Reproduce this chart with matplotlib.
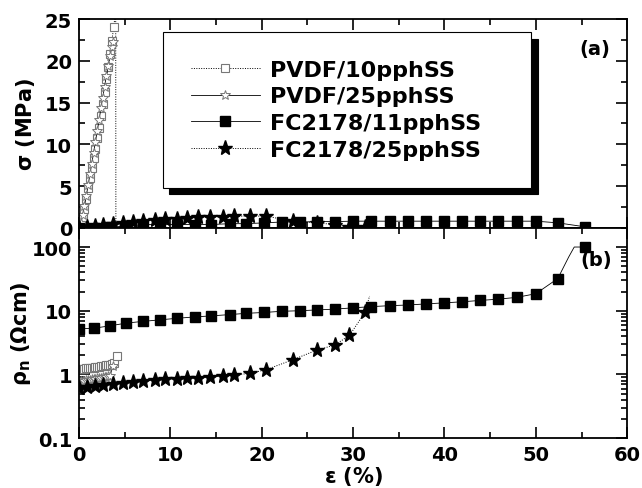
import numpy as np
import matplotlib
matplotlib.use("Agg")
import matplotlib.pyplot as plt
from matplotlib.ticker import MultipleLocator, FixedLocator, FixedFormatter, LogLocator, NullFormatter

plt.rcParams['font.family'] = ['DejaVu Sans']
plt.rcParams['font.weight'] = 'bold'

# PVDF/10pphSS
eps_p10 = [0.0, 0.2, 0.4, 0.6, 0.8, 1.0, 1.2, 1.4, 1.6, 1.8, 2.0, 2.2, 2.4, 2.6, 2.8, 3.0, 3.2, 3.4, 3.6, 3.8, 4.02, 4.04]
sig_p10 = [0.0, 0.5, 1.3, 2.3, 3.5, 4.8, 6.0, 7.2, 8.4, 9.5, 10.7, 12.0, 13.4, 14.8, 16.3, 17.8, 19.3, 20.8, 22.4, 24.0, 26.0, 0.0]
eps_p10_r = [0.0, 0.2, 0.4, 0.6, 0.8, 1.0, 1.2, 1.4, 1.6, 1.8, 2.0, 2.2, 2.4, 2.6, 2.8, 3.0, 3.2, 3.4, 3.6, 3.8, 4.2]
rho_p10 = [1.20, 1.21, 1.22, 1.23, 1.24, 1.25, 1.26, 1.27, 1.28, 1.30, 1.31, 1.32, 1.34, 1.35, 1.37, 1.39, 1.41, 1.43, 1.46, 1.50, 1.95]

# PVDF/25pphSS
eps_p25 = [0.0, 0.2, 0.4, 0.6, 0.8, 1.0, 1.2, 1.4, 1.6, 1.8, 2.0, 2.2, 2.4, 2.6, 2.8, 3.0, 3.2, 3.4, 3.6, 3.7]
sig_p25 = [0.0, 0.6, 1.5, 2.6, 3.8, 5.1, 6.4, 7.7, 9.0, 10.3, 11.6, 12.9, 14.3, 15.6, 16.9, 18.2, 19.4, 20.6, 21.7, 22.2]
eps_p25_r = [0.0, 0.2, 0.4, 0.6, 0.8, 1.0, 1.2, 1.4, 1.6, 1.8, 2.0, 2.2, 2.4, 2.6, 2.8, 3.0, 3.2, 3.4, 3.7]
rho_p25 = [0.78, 0.79, 0.80, 0.80, 0.81, 0.82, 0.83, 0.84, 0.85, 0.86, 0.87, 0.88, 0.89, 0.90, 0.91, 0.92, 0.93, 0.95, 1.35]

# FC2178/11pphSS
eps_fc11 = [0.0, 1.6, 3.4, 5.2, 7.0, 8.9, 10.7, 12.7, 14.5, 16.5, 18.3, 20.3, 22.2, 24.2, 26.1, 28.0, 30.0,
            32.0, 34.0, 36.0, 38.0, 40.0, 41.9, 43.9, 45.9, 47.9, 50.0, 52.4, 55.4]
sig_fc11 = [0.0, 0.0, 0.1, 0.2, 0.4, 0.4, 0.4, 0.4, 0.4, 0.5, 0.5, 0.6, 0.7, 0.7, 0.75, 0.75, 0.8,
            0.8, 0.8, 0.8, 0.8, 0.8, 0.8, 0.8, 0.8, 0.8, 0.8, 0.6, 0.12]
eps_fc11_r = [0.0, 1.6, 3.4, 5.2, 7.0, 8.9, 10.7, 12.7, 14.5, 16.5, 18.3, 20.3, 22.2, 24.2, 26.1, 28.0, 30.0,
              32.0, 34.0, 36.0, 38.0, 40.0, 41.9, 43.9, 45.9, 47.9, 50.0, 52.4, 53.6, 54.2, 55.4]
rho_fc11 = [5.2, 5.3, 5.8, 6.4, 6.8, 7.2, 7.6, 8.0, 8.3, 8.7, 9.1, 9.4, 9.8, 10.0, 10.3, 10.6, 11.1,
            11.6, 12.0, 12.3, 12.8, 13.3, 13.8, 14.5, 15.2, 16.2, 18.5, 32.0, 70.0, 100.0, 100.0]

# FC2178/25pphSS
eps_fc25 = [0.0, 0.84, 1.75, 2.66, 3.75, 4.85, 5.9, 7.0, 8.3, 9.4, 10.7, 11.8, 13.0, 14.3, 15.8, 17.0,
            18.7, 20.5, 23.4, 26.0, 28.0, 29.6, 31.3]
sig_fc25 = [0.0, 0.1, 0.2, 0.35, 0.5, 0.6, 0.75, 0.85, 0.95, 1.05, 1.1, 1.2, 1.25, 1.3, 1.35, 1.4,
            1.4, 1.4, 0.8, 0.6, 0.4, 0.15, 0.05]
eps_fc25_r = [0.0, 0.84, 1.75, 2.66, 3.75, 4.85, 5.9, 7.0, 8.3, 9.4, 10.7, 11.8, 13.0, 14.3, 15.8, 17.0,
              18.7, 20.5, 23.4, 26.0, 28.0, 29.6, 31.3, 31.8]
rho_fc25 = [0.62, 0.64, 0.66, 0.68, 0.72, 0.745, 0.77, 0.79, 0.82, 0.84, 0.86, 0.88, 0.89, 0.92, 0.94, 0.98,
            1.04, 1.19, 1.7, 2.4, 2.9, 4.1, 9.4, 17.0]

labels = ['PVDF/10pphSS', 'PVDF/25pphSS', 'FC2178/11pphSS', 'FC2178/25pphSS']
x_ticks = [0, 10, 20, 30, 40, 50, 60]
rho_ticks = [0.1, 1, 10, 100]
rho_tick_labels = ['0.1', '1', '10', '100']

fig = plt.figure(figsize=(6.42, 4.89), dpi=100)
ax1 = fig.add_axes([0.123, 0.532, 0.854, 0.427])
ax2 = fig.add_axes([0.123, 0.102, 0.854, 0.430])

gray = '#777777'
s_p10 = dict(ls=(0, (1, 1.5)), lw=0.7, color='k', marker='s', ms=5.5, mfc='white', mec=gray, mew=0.8)
s_p25 = dict(ls='-', lw=0.6, color='k', marker='*', ms=7, mfc='white', mec=gray, mew=0.7)
s_fc11 = dict(ls='-', lw=0.6, color='k', marker='s', ms=7, mfc='k', mec='k')
s_fc25 = dict(ls=(0, (1, 1.5)), lw=0.7, color='k', marker='*', ms=11, mfc='k', mec='k')

# stress panel
ax1.plot(eps_p10, sig_p10, markevery=list(range(len(eps_p10) - 1)), label=labels[0], **s_p10)
ax1.plot(eps_p25, sig_p25, label=labels[1], **s_p25)
ax1.plot(eps_fc11, sig_fc11, label=labels[2], **s_fc11)
ax1.plot(eps_fc25, sig_fc25, label=labels[3], **s_fc25)
ax1.set_xlim(0, 60)
ax1.set_ylim(0, 25)
ax1.yaxis.set_major_locator(MultipleLocator(5))
ax1.yaxis.set_minor_locator(MultipleLocator(2.5))
ax1.xaxis.set_major_locator(FixedLocator(x_ticks))
ax1.xaxis.set_minor_locator(MultipleLocator(5))
ax1.tick_params(axis='x', labelbottom=False)
ax1.set_ylabel(r'$\mathrm{\sigma}$ (MPa)', fontsize=15, fontweight='bold')
ax1.yaxis.set_label_coords(-0.077, 0.5)
ax1.text(0.94, 0.86, '(a)', transform=ax1.transAxes, fontsize=14, fontweight='bold', ha='center', va='center')

# fixed-width legend box with a solid drop shadow
leg = ax1.legend(loc='upper left', bbox_to_anchor=(0.153, 0.2, 0.672, 0.738), mode='expand',
                 fontsize=16, frameon=True, fancybox=False, edgecolor='k',
                 handlelength=3.1, handletextpad=0.45, labelspacing=0.3, borderpad=1.25,
                 borderaxespad=0, shadow={'ox': 4.5, 'oy': -5, 'color': 'k', 'alpha': 1})
leg.get_frame().set_linewidth(0.8)
for t in leg.get_texts():
    t.set_fontweight('bold')

# resistivity panel
ax2.plot(eps_p10_r, rho_p10, label=labels[0], **s_p10)
ax2.plot(eps_p25_r, rho_p25, label=labels[1], **s_p25)
ax2.plot(eps_fc11_r, rho_fc11, markevery=[i for i in range(len(eps_fc11_r)) if i not in (28, 29)],
         label=labels[2], **s_fc11)
ax2.plot(eps_fc25_r, rho_fc25, markevery=list(range(len(eps_fc25_r) - 1)), label=labels[3], **s_fc25)
ax2.set_yscale('log')
ax2.set_xlim(0, 60)
ax2.set_ylim(0.1, 200)
ax2.yaxis.set_major_locator(FixedLocator(rho_ticks))
ax2.yaxis.set_major_formatter(FixedFormatter(rho_tick_labels))
ax2.yaxis.set_minor_locator(LogLocator(base=10, subs=np.arange(2, 10), numticks=20))
ax2.yaxis.set_minor_formatter(NullFormatter())
ax2.xaxis.set_major_locator(FixedLocator(x_ticks))
ax2.xaxis.set_minor_locator(MultipleLocator(5))
ax2.set_xlabel(r'$\mathrm{\varepsilon}$ (%)', fontsize=15, fontweight='bold', labelpad=0)
ax2.set_ylabel(r'$\mathrm{\rho_n}$ ($\Omega$cm)', fontsize=15, fontweight='bold')
ax2.yaxis.set_label_coords(-0.083, 0.5)
ax2.text(0.943, 0.848, '(b)', transform=ax2.transAxes, fontsize=14, fontweight='bold', ha='center', va='center')

for ax in (ax1, ax2):
    for sp in ax.spines.values():
        sp.set_linewidth(1.3)
    ax.tick_params(which='both', direction='in', top=True, right=True, width=1.2)
    ax.tick_params(which='major', length=8, labelsize=14, pad=5)
    ax.tick_params(which='minor', length=4)
    for lab in ax.get_xticklabels() + ax.get_yticklabels():
        lab.set_fontweight('bold')

fig.savefig('out.png', dpi=100)
